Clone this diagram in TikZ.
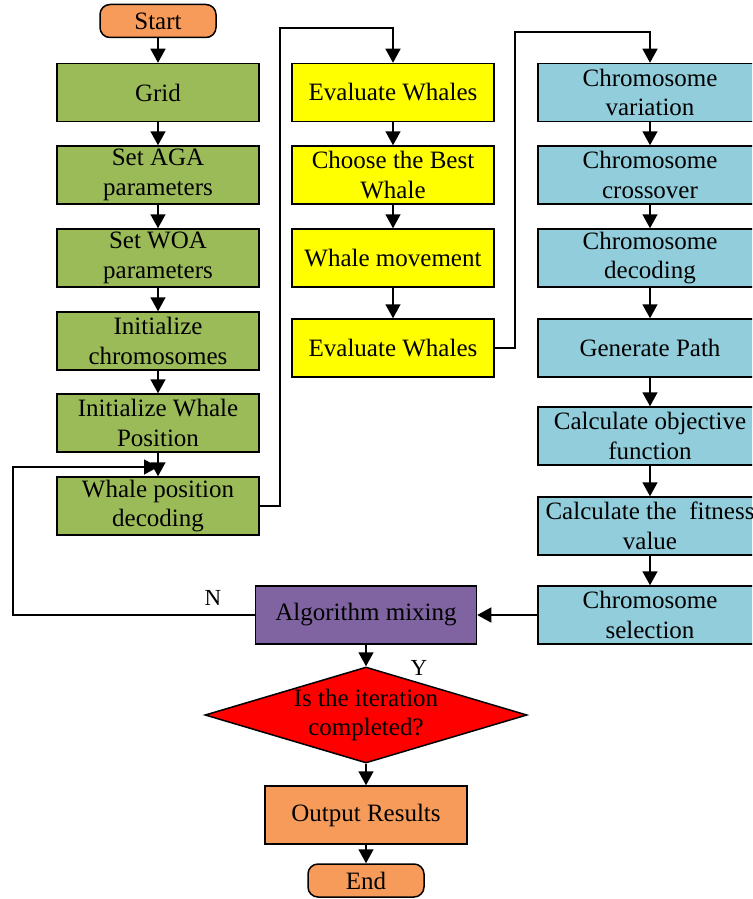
\documentclass[tikz,border=0pt]{standalone}
\usepackage{fontspec}
\setmainfont{Liberation Serif}
\usetikzlibrary{arrows.meta,shapes.geometric,calc}
\definecolor{cgreen}{HTML}{9BBB59}
\definecolor{cyell}{HTML}{FFFF00}
\definecolor{ccyan}{HTML}{92CDDC}
\definecolor{corange}{HTML}{F79B5A}
\definecolor{cpurple}{HTML}{8064A2}
\definecolor{cred}{HTML}{FF0000}
\tikzset{
  box/.style={draw=black, line width=1.5pt, minimum width=202pt, minimum height=58pt,
    inner sep=0pt, align=center, font=\fontsize{25}{29.5}\selectfont},
  gbox/.style={box, fill=cgreen},
  ybox/.style={box, fill=cyell},
  cbox/.style={box, fill=ccyan, minimum width=224pt},
  term/.style={box, fill=corange, minimum width=116pt, minimum height=33pt, rounded corners=10pt},
  arr/.style={line width=1.5pt, -{Triangle[width=15pt,length=14pt]}},
  lbl/.style={font=\fontsize{23}{27}\selectfont, inner sep=0pt}
}
\begin{document}
\begin{tikzpicture}[x=1pt,y=-1pt]
\useasboundingbox (0,0) rectangle (752,899);
\clip (0,0) rectangle (752,899);
% column 1
\node[term] (start) at (158,21) {Start};
\node[gbox] (grid) at (158,92.5) {Grid};
\node[gbox] (aga) at (158,175) {Set AGA\\parameters};
\node[gbox] (woa) at (158,258) {Set WOA\\parameters};
\node[gbox] (chrom) at (158,341) {Initialize\\chromosomes};
\node[gbox] (initwh) at (158,423) {Initialize Whale\\Position};
\node[gbox] (decode) at (158,506) {Whale position\\decoding};
% column 2
\node[ybox] (ev1) at (393,92.5) {Evaluate Whales};
\node[ybox] (best) at (393,175) {Choose the Best\\Whale};
\node[ybox] (move) at (393,258) {Whale movement};
\node[ybox] (ev2) at (393,348) {Evaluate Whales};
% column 3
\node[cbox] (var) at (650,92.5) {Chromosome\\variation};
\node[cbox] (cross) at (650,175) {Chromosome\\crossover};
\node[cbox] (cdec) at (650,258) {Chromosome\\decoding};
\node[cbox] (gen) at (650,348) {Generate Path};
\node[cbox] (obj) at (650,436) {Calculate objective\\function};
\node[cbox] (fit) at (650,526) {Calculate the\ \ fitness\\value};
\node[cbox] (sel) at (650,615) {Chromosome\\selection};
% bottom
\node[box, fill=cpurple, minimum width=221pt] (mix) at (366,615) {Algorithm mixing};
\node[draw=black, line width=1.5pt, fill=cred, diamond, aspect=3.35, minimum width=322pt,
  minimum height=96pt, inner sep=0pt] (dia) at (366,715) {};
\node[align=center, font=\fontsize{25}{29.5}\selectfont, inner sep=0pt] (diatext) at (366,715) {Is the iteration\\completed?};
\node[box, fill=corange] (out) at (366,815) {Output Results};
\node[term] (end) at (366,880.5) {End};
% labels
\node[lbl] (nlab) at (213,598) {N};
\node[lbl] (ylab) at (419,668) {Y};
% connectors column 1
\draw[arr] (start) -- (grid);
\draw[arr] (grid) -- (aga);
\draw[arr] (aga) -- (woa);
\draw[arr] (woa) -- (chrom);
\draw[arr] (chrom) -- (initwh);
\draw[arr] (initwh) -- (decode);
\coordinate (lp) at (13,615);
\coordinate (lpend) at (158,467);
\draw[arr] (mix.west) -- (lp) |- (lpend);
\coordinate (c1) at (280,28);
\draw[arr] (decode.east) -| (c1) -| (ev1.north);
% column 2
\draw[arr] (ev1) -- (best);
\draw[arr] (best) -- (move);
\draw[arr] (move) -- (ev2);
\coordinate (c2) at (515,32);
\draw[arr] (ev2.east) -| (c2) -| (var.north);
% column 3
\draw[arr] (var) -- (cross);
\draw[arr] (cross) -- (cdec);
\draw[arr] (cdec) -- (gen);
\draw[arr] (gen) -- (obj);
\draw[arr] (obj) -- (fit);
\draw[arr] (fit) -- (sel);
\draw[arr] (sel.west) -- (mix.east);
\draw[arr] (mix.south) -- (dia.north);
\draw[arr] (dia.south) -- (out.north);
\draw[arr] (out.south) -- (end.north);
\end{tikzpicture}
\end{document}
